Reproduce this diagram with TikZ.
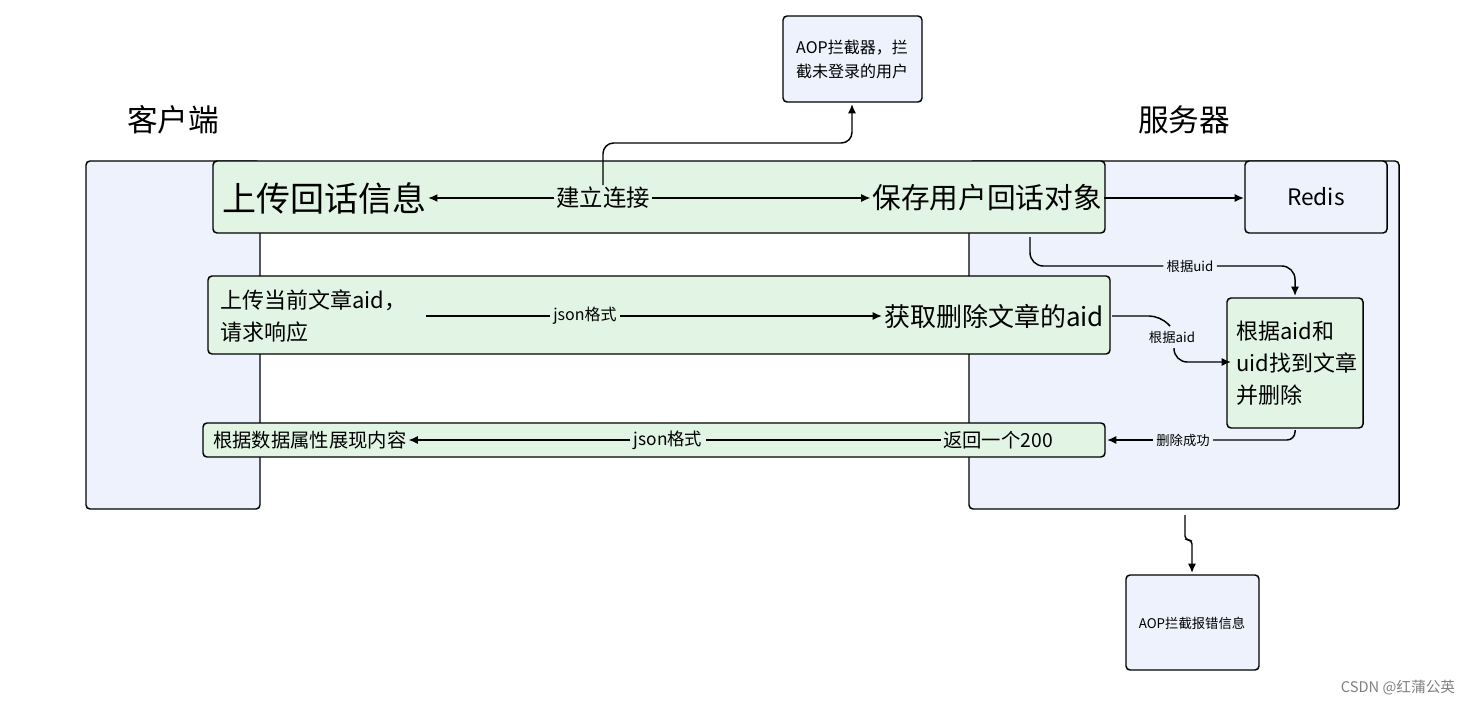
\documentclass[tikz,border=0pt]{standalone}
\usepackage{fontspec}
\setmainfont{Noto Sans CJK SC}
\usetikzlibrary{arrows.meta,positioning}
\definecolor{lanebg}{HTML}{EEF2FC}
\definecolor{rowbg}{HTML}{E2F5E4}
\begin{document}
\begin{tikzpicture}[x=0.75pt,y=-0.75pt, line width=1.1pt, >={Latex[length=7pt,width=6pt]},
  lane/.style={draw,rounded corners=3pt,fill=lanebg},
  row/.style={draw,rounded corners=3pt,fill=rowbg},
  box/.style={draw,rounded corners=3pt,fill=lanebg},
  lbl/.style={inner sep=2pt,font=\fontsize{10}{12}\selectfont},
  txt/.style={inner sep=1pt}]
\useasboundingbox (0,0) rectangle (1481,706);
% lanes
\draw[lane] (86,161) rectangle (260,509);
\draw[lane] (969,161) rectangle (1399,509);
\node (client) at (173,120) {\fontsize{23}{26}\selectfont 客户端};
\node (server) at (1184,120) {\fontsize{23}{26}\selectfont 服务器};
% boxes
\draw[box] (783,16) rectangle (922,102);
\node[align=center,font=\fontsize{12}{18}\selectfont] (aop) at (852,59) {AOP拦截器，拦\\截未登录的用户};
\coordinate (aopin) at (852,104);
\draw[box] (1245,161) rectangle (1387,233);
\node[font=\fontsize{17}{20}\selectfont] (redis) at (1316,197) {Redis};
\coordinate (redisin) at (1244,198);
\draw[row] (1227,298) rectangle (1363,428);
\node[align=left,font=\fontsize{16.5}{24}\selectfont,anchor=west] (find) at (1231,363) {根据aid和\\uid找到文章\\并删除};
\draw[box] (1126,575) rectangle (1259,670);
\node[font=\fontsize{10}{12}\selectfont] (aoperr) at (1192,623) {AOP拦截报错信息};
% row 1
\draw[row] (213,161) rectangle (1105,233);
\node[txt,anchor=west,font=\fontsize{25.5}{28}\selectfont] (upload) at (220,198) {上传回话信息};
\node[txt,anchor=east,font=\fontsize{21.5}{24}\selectfont] (save) at (1104,198) {保存用户回话对象};
\node[txt,font=\fontsize{17.5}{20}\selectfont] (conn) at (603,198) {建立连接};
\draw[->] (conn) -- (upload);
\draw[->] (conn) -- (save);
\draw[->,rounded corners=8pt] (conn.north) |- (852,143) -- (aopin);
\draw[->] (save) -- (redisin);
% row 2
\draw[row] (208,276) rectangle (1110,354);
\node[txt,anchor=west,align=left,font=\fontsize{16.5}{24}\selectfont] (aidup) at (218,316) {上传当前文章aid，\\请求响应};
\node[txt,anchor=east,font=\fontsize{19.5}{22}\selectfont] (getaid) at (1106,316) {获取删除文章的aid};
\node[lbl,font=\fontsize{12}{14}\selectfont] (json1) at (585,316) {json格式};
\draw (426,316) coordinate (j1s) -- (json1);
\draw[->] (json1) -- (getaid);
% row 3
\draw[row] (203,423) rectangle (1105,457);
\node[txt,anchor=west,font=\fontsize{14.5}{18}\selectfont] (show) at (211,440) {根据数据属性展现内容};
\node[txt,font=\fontsize{14.5}{18}\selectfont] (ret) at (998,440) {返回一个200};
\node[lbl,font=\fontsize{13}{14}\selectfont] (json2) at (668,440) {json格式};
\draw[->] (json2) -- (show);
\draw (ret) -- (json2);
% server links
\node[lbl] (byuid) at (1190,266) {根据uid};
\draw[rounded corners=10pt] (1030,237) |- (byuid);
\draw[->,rounded corners=10pt] (byuid) -| (1295,296);
\node[lbl] (byaid) at (1172,337) {根据aid};
\draw[rounded corners=8pt] (1112,316) -- (1160,316) -- (1170,326);
\draw[->,rounded corners=10pt] (1174,348) |- (find.west |- 0,362);
\node[lbl] (ok) at (1183,440) {删除成功};
\draw[rounded corners=6pt] (1295,430) |- (ok);
\draw[->] (ok) -- (1107,440);
\draw[->,rounded corners=3pt] (1185,515) -- (1185,540) -- (1192,540) -- (1192,573);
\node[text=gray,font=\fontsize{11}{13}\selectfont] (mark) at (1398,688) {CSDN @红蒲公英};
\end{tikzpicture}
\end{document}
